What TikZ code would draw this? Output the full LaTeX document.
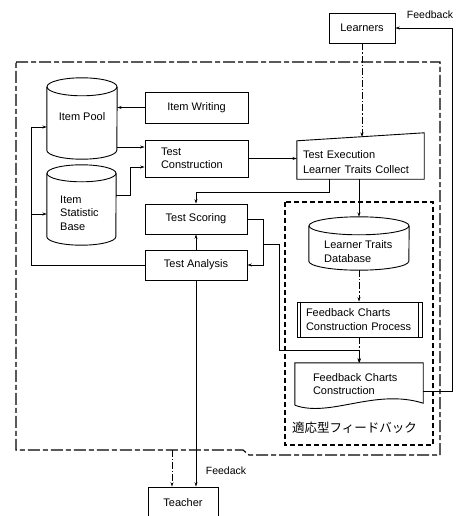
\documentclass[tikz,border=0pt]{standalone}
\usepackage{fontspec}
\setmainfont{Liberation Sans}
\newfontfamily\jpfont{Noto Sans CJK JP}
\usetikzlibrary{arrows.meta,calc}

% outline of a drum (cylinder) around a body node: node, x radius, y radius
\newcommand\drumoutline[3]{%
  \draw[box] (#1.north west) -- (#1.south west)
    arc[start angle=180,end angle=360,x radius=#2,y radius=#3] -- (#1.north east);
  \draw[box] (#1.north) ellipse[x radius=#2,y radius=#3];}

\begin{document}
\begin{tikzpicture}[x=1pt,y=-1pt,
  every node/.style={font=\fontsize{11}{13.5}\selectfont, inner sep=0pt},
  box/.style={draw, line width=0.9pt},
  link/.style={line width=0.75pt},
  arr/.style={link, -{Stealth[length=4.5pt,width=3pt]}},
  dd/.style={dash pattern=on 7pt off 2pt on 1.2pt off 2pt},
  outerline/.style={line width=1.1pt, dash pattern=on 12pt off 3pt on 5pt off 3pt},
  innerline/.style={line width=1.1pt, dash pattern=on 5pt off 3pt},
  lbl/.style={font=\fontsize{10.5}{12}\selectfont}]

\useasboundingbox (0,0) rectangle (457,516);
\fill[white] (0,0) rectangle (457,516);

% frames
\draw[outerline] (16,62) -- (440,62) -- (440,455) -- (249,455) -- (243,450) -- (16,450) -- cycle;
\draw[innerline] (285,202) rectangle (433,445);
\node[anchor=west, font=\jpfont\fontsize{12.5}{14}\selectfont] (jplabel) at (292,428) {適応型フィードバック};

% drums
\node[minimum width=70, minimum height=63] (ip) at (82,118.5) {};
\drumoutline{ip}{35pt}{9pt}
\node (iptext) at (82,117) {Item Pool};

\node[minimum width=69, minimum height=63] (isb) at (81.5,205) {};
\drumoutline{isb}{34.5pt}{8.5pt}
\node[anchor=west, align=left] (isbtext) at (60,213) {Item\\Statistic\\Base};

\node[minimum width=100, minimum height=35] (ltdb) at (359,243.5) {};
\drumoutline{ltdb}{50pt}{9pt}
\node[anchor=west, align=left] (ltdbtext) at (324,251.5) {Learner Traits\\Database};

% boxes
\node[box, minimum width=66, minimum height=30] (lrn) at (362,28) {Learners};
\node[box, minimum width=103, minimum height=31] (iw) at (196.5,107.5) {Item Writing};
\node[box, minimum height=37, text width=71, inner xsep=16, align=left] (tc) at (196.5,158.5) {Test\\Construction};
\node[box, minimum width=102, minimum height=30] (ts) at (196,219) {Test Scoring};
\node[box, minimum width=102, minimum height=30] (ta) at (196,265) {Test Analysis};
\node[box, minimum width=70, minimum height=31] (teacher) at (183,502.5) {Teacher};

% manual input shape
\node[minimum height=34, text width=115, inner xsep=6, align=left,
      font=\fontsize{11}{14.5}\selectfont] (te) at (360.5,162)
  {Test Execution\\Learner Traits Collect};
\draw[box] (te.south west) -- (te.south east) -- ($(te.north east)+(0,-12)$)
  -- ($(te.north west)+(0,-4)$) -- cycle;

% predefined process
\node[box, minimum height=35, text width=107, inner xsep=9, align=left] (fccp) at (359.5,319.5)
  {Feedback Charts\\Construction Process};
\draw[box] ($(fccp.north west)+(4,0)$) -- ($(fccp.south west)+(4,0)$)
  ($(fccp.north east)+(-4,0)$) -- ($(fccp.south east)+(-4,0)$);

% document shape
\node[minimum height=42, text width=92, inner xsep=18, align=left] (fcc) at (359,384)
  {Feedback Charts\\Construction};
\draw[box] (fcc.south west) -- (fcc.north west) -- (fcc.north east) -- ($(fcc.south east)+(0,-2)$)
  .. controls (375,388) and (330,418) .. (fcc.south west);

% helper points
\coordinate (yip) at (0,147);
\coordinate (j1) at (130,195);
\coordinate (j2) at (130,167);
\coordinate (tetop) at (362,137);
\coordinate (k1) at (329,192);
\coordinate (ltdbtop) at ($(ltdb.north)+(0,-9)$);
\coordinate (ltdbbot) at ($(ltdb.south)+(0,9)$);
\coordinate (m) at (263,244);
\coordinate (n1) at (279,244);
\coordinate (n2) at (279,350);
\coordinate (w1) at (31,127);
\coordinate (w2) at (31,214);
\coordinate (t1) at (172,450);
\coordinate (f1) at (452,391);
\coordinate (f2) at (452,28);

% connectors
\draw[arr] (iw.west) -- (iw.west -| ip.east);
\draw[arr] (ip.east |- yip) -- (tc.west |- yip);
\draw[arr] (isb.east |- j1) -- (j1) -- (j2) -- (tc.west |- j2);
\draw[arr] (tc.east) -- (tc.east -| te.west);
\draw[arr, dd] (lrn.south) -- (tetop);
\draw[arr] (te.south -| k1) -- (k1) -| (ts.north);
\draw[arr] (te.south -| ltdbtop) -- (ltdbtop);
\draw[arr] (ta.north) -- (ts.south);
\draw[arr] (ts.east) -- (ts.east -| m) -- (ta.east -| m) -- (ta.east);
\draw[arr] (m) -- (n1) -- (n2) -| (fcc.north);
\draw[arr] (ta.west) -| (w1) -- (ip.west |- w1);
\draw[arr] (w2) -- (isb.west |- w2);
\draw[arr] (ta.south) -- (ta.south |- teacher.north);
\draw[arr, dd] (t1) -- (t1 |- teacher.north);
\draw[arr, dd] (ltdbbot) -- (ltdbbot |- fccp.north);
\draw[arr, dd] (fccp.south) -- (fccp.south |- fcc.north);
\draw[arr] (fcc.east |- f1) -| (f2) -- (lrn.east);

% labels
\node[lbl] (fbtop) at (430,15) {Feedback};
\node[lbl] (fbbottom) at (226,471) {Feedack};
\end{tikzpicture}
\end{document}
